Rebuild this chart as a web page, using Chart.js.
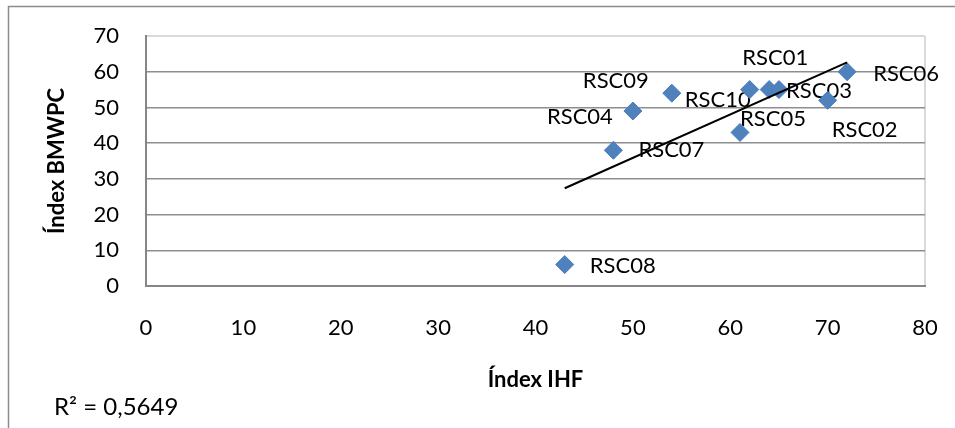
<!DOCTYPE html>
<html>
<head>
<meta charset="utf-8">
<script src="https://cdn.jsdelivr.net/npm/chart.js@4"></script>
<style>
  html, body { margin: 0; padding: 0; background: #fff; }
  #wrap { width: 955px; height: 428px; }
</style>
</head>
<body>
<div id="wrap"><canvas id="chart" width="955" height="428"></canvas></div>
<script>
// sampling sites and their two indices
const siteNames = ["RSC08", "RSC07", "RSC04", "RSC09", "RSC05", "RSC10", "RSC01", "RSC03", "RSC02", "RSC06"];
const ihfValues = [43, 48, 50, 54, 61, 62, 64, 65, 70, 72];
const bmwpcValues = [6, 38, 49, 54, 43, 55, 55, 55, 52, 60];

const xTickValues = [0, 10, 20, 30, 40, 50, 60, 70, 80];
const yTickValues = [0, 10, 20, 30, 40, 50, 60, 70];

// where each label sits relative to its marker (px)
const labelOffsets = [[58, 1], [58, 0], [-53, 6], [-56, -12], [33, -14], [-32, 10], [6, -32], [40, 1], [37, 30], [59, 2]];

const FONT = "Lato, 'Open Sans', sans-serif";
Chart.defaults.font.family = FONT;
Chart.defaults.color = "#000";

// least squares fit for the trend line
function linearFit(xs, ys) {
  const n = xs.length;
  const mx = xs.reduce((a, b) => a + b, 0) / n;
  const my = ys.reduce((a, b) => a + b, 0) / n;
  let sxx = 0, sxy = 0, syy = 0;
  for (let i = 0; i < n; i++) {
    sxx += (xs[i] - mx) ** 2;
    sxy += (xs[i] - mx) * (ys[i] - my);
    syy += (ys[i] - my) ** 2;
  }
  const slope = sxy / sxx;
  return { slope, intercept: my - slope * mx, r2: (sxy * sxy) / (sxx * syy) };
}

const fit = linearFit(ihfValues, bmwpcValues);
const xMin = Math.min(...ihfValues);
const xMax = Math.max(...ihfValues);
const trend = [xMin, xMax].map((x) => ({ x, y: fit.intercept + fit.slope * x }));
const points = ihfValues.map((x, i) => ({ x, y: bmwpcValues[i] }));

const framePlugin = {
  id: "frame",
  beforeDraw(chart) {
    const c = chart.ctx;
    c.save();
    c.fillStyle = "#fff";
    c.fillRect(0, 0, chart.width, chart.height);
    c.strokeStyle = "#8c8c8c";
    c.lineWidth = 1.5;
    c.strokeRect(8.5, 6.5, chart.width + 10, chart.height + 10);
    c.restore();
  },
};

const labelPlugin = {
  id: "siteLabels",
  beforeDatasetsDraw(chart) {
    const c = chart.ctx;
    const { x, y } = chart.scales;
    c.save();
    c.font = "22px " + FONT;
    c.fillStyle = "#000";
    c.textAlign = "center";
    c.textBaseline = "middle";
    siteNames.forEach((name, i) => {
      const px = x.getPixelForValue(ihfValues[i]) + labelOffsets[i][0];
      const py = y.getPixelForValue(bmwpcValues[i]) + labelOffsets[i][1];
      c.fillText(name, px, py);
    });
    c.textAlign = "left";
    c.font = "24px " + FONT;
    c.fillText("R² = " + fit.r2.toFixed(4).replace(".", ","), 54, 407);
    c.restore();
  },
};

new Chart(document.getElementById("chart"), {
  type: "scatter",
  data: {
    datasets: [
      {
        label: "Sites",
        data: points,
        pointStyle: "rectRot",
        pointRadius: 9,
        backgroundColor: "#4f81bd",
        borderColor: "#4a7ebb",
        borderWidth: 1,
        order: 1,
      },
      {
        type: "line",
        label: "Trend",
        data: trend,
        borderColor: "#000",
        borderWidth: 2,
        pointRadius: 0,
        fill: false,
        order: 0,
      },
    ],
  },
  options: {
    responsive: false,
    devicePixelRatio: 1,
    animation: false,
    layout: { padding: { left: 0, right: 30, top: 36, bottom: 0 } },
    plugins: { legend: { display: false }, tooltip: { enabled: false } },
    scales: {
      x: {
        type: "linear",
        min: 0,
        max: 80,
        afterBuildTicks: (s) => { s.ticks = xTickValues.map((v) => ({ value: v })); },
        afterFit: (s) => {
          s.height = 142;
          s.paddingLeft = 0;
          s.paddingRight = 0;
        },
        grid: {
          drawTicks: false,
          lineWidth: 2,
          color: (ctx) => (ctx.tick && ctx.tick.value === 80 ? "#d9d9d9" : "rgba(0,0,0,0)"),
        },
        border: { color: "#868686", width: 2 },
        ticks: { padding: 29, font: { size: 22 }, color: "#000" },
        title: { display: true, text: "Índex IHF", font: { size: 22, weight: "bold" }, padding: { top: 0, bottom: 35 } },
      },
      y: {
        type: "linear",
        min: 0,
        max: 70,
        afterBuildTicks: (s) => { s.ticks = yTickValues.map((v) => ({ value: v })); },
        afterFit: (s) => {
          s.width = 146;
          s.paddingTop = 0;
          s.paddingBottom = 0;
        },
        grid: {
          drawTicks: false,
          lineWidth: (ctx) => (ctx.tick && ctx.tick.value === 70 ? 2 : 1.5),
          color: (ctx) => (ctx.tick && ctx.tick.value === 70 ? "#d9d9d9" : "#8e8e8e"),
        },
        border: { color: "#868686", width: 2 },
        ticks: { padding: 27, font: { size: 22 }, color: "#000" },
        title: { display: true, text: "Índex BMWPC", font: { size: 22, weight: "bold" }, padding: { top: 44, bottom: 0 } },
      },
    },
  },
  plugins: [framePlugin, labelPlugin],
});
</script>
</body>
</html>
